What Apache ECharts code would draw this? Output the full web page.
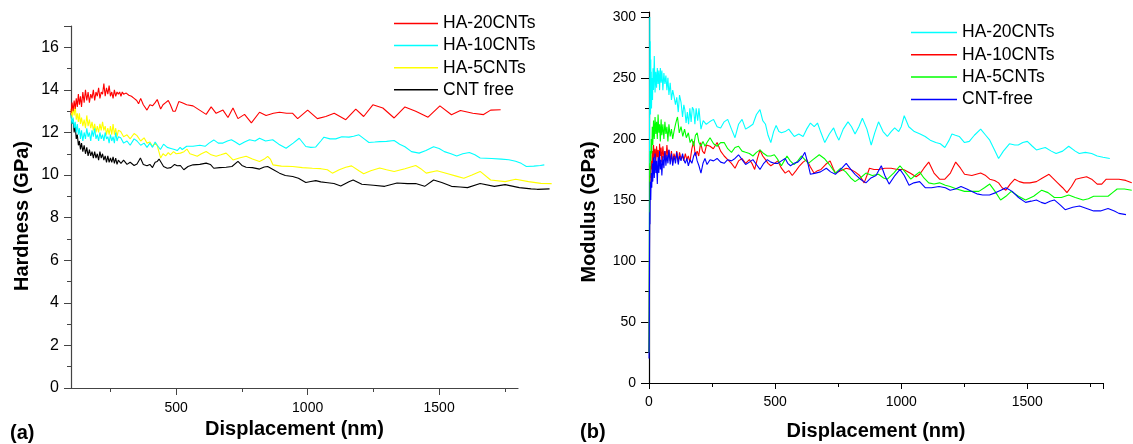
<!DOCTYPE html>
<html>
<head>
<meta charset="utf-8">
<script src="https://cdn.jsdelivr.net/npm/echarts@6/dist/echarts.min.js"></script>
<style>
html,body{margin:0;padding:0;background:#fff;}
#a{position:absolute;left:0;top:0;width:566px;height:444px;}
#b{position:absolute;left:566px;top:0;width:567px;height:444px;}
</style>
</head>
<body>
<div id="a"></div>
<div id="b"></div>
<script>
// ---------- (a) Hardness vs displacement ----------
const hardnessNames = ['HA-20CNTs', 'HA-10CNTs', 'HA-5CNTs', 'CNT free'];
const hardnessColors = ['#ff0000', '#00ffff', '#ffff00', '#000000'];
const hardnessXTicks = [500, 1000, 1500];
const hardnessXMinorTicks = [250, 750, 1250, 1750];

const hardness20 = [[100,12.9],[104,13.4],[108,13.0],[112,13.5],[116,13.1],[120,13.6],[124,13.2],[128,13.8],[132,13.3],[136,13.7],[140,13.2],[145,13.9],[150,13.4],[155,14.0],[160,13.5],[165,13.9],[170,13.4],[175,13.8],[180,13.6],[185,14.0],[190,13.5],[195,13.9],[200,13.7],[205,14.1],[210,13.6],[215,13.9],[220,13.8],[225,14.3],[230,13.7],[235,14.1],[240,13.8],[245,14.2],[250,13.7],[255,13.9],[260,13.6],[265,14.0],[270,13.7],[275,13.9],[280,13.8],[285,13.9],[290,13.7],[295,13.9],[300,13.8],[310,13.85],[320,13.75],[330,13.7],[340,13.6],[350,13.5],[357,13.35],[365,13.6],[375,13.3],[389,13.05],[400,13.3],[410,13.25],[420,13.4],[428,13.55],[435,13.3],[441,13.1],[450,13.3],[460,13.4],[470,13.5],[478,13.3],[488,13.0],[497,13.0],[510,13.45],[523,13.4],[540,13.3],[564,13.25],[589,13.05],[614,12.85],[633,13.2],[652,12.9],[678,13.05],[697,12.7],[716,13.15],[735,12.65],[760,12.85],[786,12.45],[817,12.95],[842,12.8],[870,12.9],[893,12.95],[920,12.9],[943,12.9],[962,12.65],[1000,13.05],[1037,12.65],[1069,12.75],[1101,12.9],[1145,12.6],[1183,13.1],[1213,12.75],[1248,13.3],[1286,13.15],[1329,12.68],[1370,13.2],[1411,13.0],[1458,12.72],[1503,13.25],[1547,12.83],[1581,13.03],[1628,12.9],[1669,12.84],[1696,13.05],[1734,13.07]];

const hardness10 = [[100,12.8],[104,12.4],[108,12.7],[112,12.2],[116,12.5],[120,12.0],[124,12.4],[128,11.9],[132,12.2],[136,11.7],[140,12.1],[145,11.6],[150,12.0],[155,11.7],[160,12.2],[165,11.8],[170,12.0],[175,11.6],[180,12.1],[185,11.8],[190,12.2],[195,11.7],[200,11.9],[205,11.6],[210,12.0],[215,11.7],[220,11.9],[225,11.6],[230,12.0],[235,11.7],[240,11.8],[245,11.5],[250,11.9],[255,11.6],[260,11.8],[265,11.5],[270,12.0],[275,11.6],[280,11.8],[289,11.75],[300,11.5],[313,11.6],[325,11.4],[340,11.7],[351,11.6],[365,11.4],[378,11.5],[389,11.3],[400,11.5],[410,11.3],[420,11.55],[428,11.4],[440,11.2],[452,11.45],[466,11.3],[480,11.25],[494,11.2],[504,11.15],[515,11.3],[523,11.2],[540,11.35],[564,11.35],[590,11.4],[610,11.35],[625,11.5],[643,11.65],[660,11.5],[678,11.5],[695,11.6],[710,11.66],[725,11.55],[741,11.42],[760,11.55],[779,11.66],[800,11.6],[817,11.73],[840,11.6],[867,11.66],[890,11.45],[918,11.26],[945,11.5],[968,11.73],[993,11.34],[1012,11.3],[1031,11.32],[1050,11.6],[1062,11.78],[1085,11.7],[1107,11.7],[1130,11.8],[1157,11.78],[1175,11.82],[1195,11.89],[1215,11.7],[1233,11.53],[1255,11.55],[1274,11.57],[1300,11.58],[1329,11.62],[1350,11.45],[1370,11.33],[1395,11.1],[1424,11.03],[1450,11.15],[1479,11.33],[1500,11.25],[1520,11.1],[1545,11.0],[1567,10.9],[1590,11.0],[1615,11.06],[1636,10.95],[1656,10.8],[1700,10.78],[1737,10.75],[1765,10.72],[1791,10.65],[1812,10.55],[1832,10.4],[1860,10.42],[1885,10.45],[1900,10.48]];

const hardness5 = [[100,13.1],[104,12.7],[108,13.2],[112,12.8],[116,13.3],[120,12.6],[124,12.9],[128,12.5],[132,12.9],[136,12.4],[140,12.7],[145,12.3],[150,12.6],[155,12.2],[160,12.8],[165,12.3],[170,12.6],[175,12.2],[180,12.5],[185,12.1],[190,12.4],[195,12.0],[200,12.3],[205,12.0],[210,12.4],[215,12.1],[220,12.5],[225,12.1],[230,12.3],[235,11.9],[240,12.2],[245,11.9],[250,12.3],[255,11.9],[260,12.4],[265,11.9],[270,12.2],[275,11.8],[280,12.1],[289,12.05],[300,11.8],[313,11.89],[325,11.7],[340,11.95],[351,11.85],[365,11.6],[378,11.75],[389,11.5],[400,11.55],[410,11.35],[420,11.5],[428,11.38],[435,11.4],[441,10.8],[450,11.0],[460,10.9],[470,11.05],[478,10.95],[490,11.1],[500,11.0],[516,11.03],[530,11.1],[541,11.22],[552,11.0],[564,10.95],[580,10.88],[596,11.0],[614,11.11],[633,10.95],[652,10.88],[670,10.95],[690,11.03],[705,10.85],[716,10.71],[740,10.8],[766,10.88],[790,10.75],[817,10.64],[835,10.75],[848,10.88],[858,10.75],[868,10.48],[900,10.42],[943,10.4],[980,10.35],[1018,10.32],[1050,10.3],[1075,10.25],[1094,10.09],[1120,10.25],[1145,10.37],[1167,10.43],[1195,10.2],[1213,10.06],[1240,10.2],[1274,10.33],[1300,10.25],[1329,10.17],[1370,10.3],[1411,10.45],[1430,10.3],[1451,10.09],[1492,10.2],[1533,10.06],[1565,9.95],[1594,9.85],[1625,10.0],[1656,10.17],[1696,9.77],[1751,9.69],[1791,9.8],[1840,9.69],[1887,9.61],[1928,9.6]];

const hardness0 = [[100,12.9],[104,12.4],[108,12.6],[112,12.0],[116,12.3],[120,11.7],[124,11.9],[128,11.4],[132,11.6],[136,11.2],[140,11.5],[145,11.1],[150,11.4],[155,11.0],[160,11.3],[165,10.9],[170,11.2],[175,10.9],[180,11.1],[185,10.8],[190,11.1],[195,10.8],[200,11.0],[205,10.7],[210,11.1],[215,10.8],[220,11.0],[225,10.7],[230,10.9],[235,10.6],[240,10.9],[245,10.6],[250,10.8],[255,10.6],[260,10.85],[265,10.55],[270,10.8],[275,10.5],[280,10.7],[290,10.55],[300,10.7],[313,10.5],[325,10.6],[340,10.45],[351,10.52],[364,10.8],[375,10.5],[389,10.44],[400,10.5],[410,10.35],[420,10.6],[428,10.64],[435,10.75],[441,10.8],[452,10.4],[466,10.32],[480,10.35],[494,10.5],[504,10.44],[516,10.45],[529,10.25],[545,10.4],[564,10.48],[590,10.5],[614,10.56],[630,10.5],[643,10.32],[665,10.35],[690,10.37],[712,10.4],[735,10.64],[750,10.45],[766,10.37],[790,10.35],[817,10.28],[835,10.38],[848,10.4],[870,10.25],[893,10.09],[915,9.98],[943,9.93],[965,9.85],[993,9.65],[1012,9.7],[1031,9.74],[1050,9.68],[1069,9.65],[1100,9.6],[1126,9.49],[1157,9.69],[1173,9.77],[1206,9.57],[1250,9.52],[1293,9.47],[1340,9.63],[1380,9.6],[1411,9.6],[1445,9.47],[1479,9.77],[1510,9.65],[1547,9.47],[1580,9.44],[1608,9.41],[1656,9.6],[1710,9.47],[1751,9.55],[1805,9.41],[1850,9.35],[1873,9.33],[1920,9.35]];

// ---------- (b) Modulus vs displacement ----------
const modulusNames = ['HA-20CNTs', 'HA-10CNTs', 'HA-5CNTs', 'CNT-free'];
const modulusColors = ['#00ffff', '#ff0000', '#00ff00', '#0000ff'];

const modulus20 = [[0,25],[1,70],[2,180],[3,300],[4,240],[5,280],[6,220],[7,265],[8,230],[9,255],[10,225],[12,250],[14,232],[16,258],[18,240],[21,268],[24,238],[27,255],[30,242],[33,258],[36,245],[39,256],[42,240],[45,258],[48,246],[51,256],[55,240],[59,254],[63,245],[67,252],[71,240],[75,250],[79,236],[84,246],[89,232],[94,240],[99,235],[105,228],[110,234],[116,222],[121,236],[127,230],[133,218],[138,228],[142,224],[147,213],[152,222],[157,212],[162,225],[167,214],[172,226],[177,224],[182,212],[187,225],[193,215],[198,225],[206,208],[215,215],[227,212],[240,214],[256,216],[270,210],[284,209],[298,214],[312,216],[327,208],[341,201],[355,212],[369,216],[383,208],[398,210],[412,212],[426,220],[440,224],[451,215],[462,212],[472,203],[483,197],[494,206],[504,211],[515,206],[525,205],[540,206],[554,208],[565,205],[576,202],[594,204],[611,202],[625,208],[640,213],[655,210],[668,213],[682,205],[697,197],[715,204],[732,209],[743,203],[753,199],[770,208],[789,214],[803,210],[817,204],[832,210],[846,217],[864,208],[881,195],[895,205],[910,214],[928,206],[945,202],[960,206],[974,209],[990,206],[1000,210],[1012,219],[1030,210],[1052,206],[1075,204],[1095,202],[1115,199],[1137,197],[1155,196],[1173,193],[1190,199],[1201,204],[1215,203],[1230,202],[1251,197],[1270,198],[1290,203],[1315,208],[1335,203],[1351,199],[1370,191],[1386,184],[1405,190],[1429,196],[1450,195],[1464,195],[1482,197],[1500,198],[1520,194],[1536,191],[1553,192],[1571,193],[1595,190],[1614,188],[1640,190],[1664,194],[1690,190],[1706,188],[1730,189],[1755,188],[1777,186],[1800,185],[1827,184]];

const modulus10 = [[0,25],[1,60],[2,120],[3,170],[4,160],[5,178],[7,168],[9,182],[11,175],[13,190],[15,180],[18,195],[21,184],[24,192],[27,180],[30,194],[33,185],[36,191],[39,178],[42,196],[45,186],[48,193],[51,181],[55,194],[59,184],[63,190],[67,183],[71,195],[75,185],[79,191],[84,182],[89,190],[94,180],[99,188],[105,183],[110,190],[116,181],[121,189],[127,184],[133,186],[138,182],[144,188],[150,183],[156,186],[162,181],[170,192],[177,198],[184,186],[191,190],[197,186],[205,197],[212,190],[220,188],[228,195],[242,194],[255,192],[270,197],[284,190],[298,186],[312,183],[327,180],[341,176],[355,182],[369,184],[383,180],[398,183],[408,180],[419,175],[430,184],[440,191],[451,186],[462,183],[472,180],[483,178],[497,180],[511,182],[525,176],[540,172],[554,174],[568,170],[583,174],[597,178],[611,181],[625,183],[640,177],[654,172],[668,174],[682,175],[700,179],[718,182],[730,176],[739,172],[760,174],[782,176],[800,175],[817,173],[835,170],[853,164],[864,170],[874,176],[892,175],[910,175],[935,176],[960,176],[985,175],[1009,175],[1035,172],[1059,169],[1073,171],[1090,176],[1109,181],[1130,172],[1152,167],[1173,167],[1195,172],[1216,181],[1235,176],[1251,171],[1280,170],[1315,172],[1335,170],[1351,167],[1370,166],[1386,164],[1400,160],[1415,158],[1432,163],[1450,167],[1468,165],[1486,164],[1510,164],[1536,165],[1560,168],[1586,171],[1600,168],[1620,164],[1640,160],[1657,156],[1675,161],[1692,167],[1712,168],[1735,169],[1755,167],[1777,163],[1795,163],[1813,167],[1840,167],[1863,167],[1890,166],[1914,164]];

const modulus5 = [[0,25],[1,60],[2,130],[3,180],[4,170],[5,190],[7,182],[9,200],[11,188],[13,210],[15,195],[18,215],[21,200],[24,218],[27,204],[30,214],[33,200],[36,220],[39,205],[42,212],[45,198],[48,216],[51,203],[55,212],[59,200],[63,214],[67,204],[71,210],[75,198],[79,212],[84,202],[89,208],[94,200],[99,206],[105,212],[110,216],[113,218],[120,205],[127,210],[134,202],[141,208],[148,201],[156,205],[163,197],[170,200],[177,194],[184,203],[191,205],[198,197],[206,194],[214,198],[222,194],[230,197],[242,201],[256,196],[270,194],[284,197],[298,197],[312,192],[327,189],[341,193],[355,194],[369,190],[383,189],[398,188],[412,186],[426,189],[440,191],[455,188],[469,186],[483,186],[497,187],[511,183],[525,178],[536,182],[547,186],[560,182],[575,179],[590,182],[604,186],[618,183],[632,180],[650,183],[675,187],[695,184],[715,179],[739,172],[760,176],[780,173],[800,168],[817,165],[838,168],[860,172],[885,170],[910,171],[930,168],[945,167],[970,172],[995,178],[1015,173],[1038,167],[1055,170],[1073,173],[1090,168],[1109,164],[1130,163],[1152,164],[1175,162],[1194,161],[1220,159],[1251,157],[1280,157],[1308,157],[1330,160],[1351,163],[1372,157],[1394,150],[1415,153],[1436,157],[1465,153],[1493,150],[1525,153],[1557,158],[1582,156],[1607,152],[1635,152],[1664,154],[1690,152],[1721,150],[1742,151],[1763,153],[1790,153],[1820,153],[1838,156],[1856,159],[1885,159],[1914,158]];

const modulus0 = [[0,20],[1,40],[2,90],[3,140],[4,130],[5,165],[7,150],[9,172],[11,160],[13,180],[15,165],[18,185],[21,168],[24,188],[27,172],[30,182],[33,163],[36,185],[39,172],[42,190],[45,175],[48,183],[51,170],[55,186],[59,176],[63,190],[67,178],[71,187],[75,180],[79,191],[84,179],[89,188],[94,178],[99,186],[105,180],[110,189],[116,179],[121,186],[127,182],[133,188],[138,183],[144,180],[150,184],[156,178],[163,183],[170,180],[177,186],[184,189],[191,182],[198,178],[206,172],[214,180],[222,184],[230,179],[242,183],[256,182],[270,184],[284,181],[298,180],[312,183],[327,182],[341,184],[355,187],[369,183],[383,179],[398,181],[412,183],[426,179],[440,175],[455,180],[469,183],[483,181],[497,180],[511,180],[525,182],[540,184],[550,180],[561,178],[575,180],[590,181],[604,184],[618,189],[630,180],[640,171],[660,172],[680,173],[703,176],[720,173],[739,171],[760,175],[782,180],[800,175],[817,171],[838,167],[860,164],[880,168],[900,170],[921,178],[935,170],[952,163],[975,170],[995,175],[1012,170],[1031,162],[1050,164],[1073,165],[1095,160],[1120,160],[1150,161],[1175,160],[1194,158],[1215,159],[1237,161],[1260,159],[1280,157],[1300,155],[1323,154],[1350,154],[1375,156],[1395,158],[1415,160],[1440,157],[1465,152],[1493,148],[1515,149],[1536,150],[1555,148],[1571,147],[1590,149],[1607,150],[1630,146],[1650,142],[1680,144],[1707,145],[1735,143],[1763,141],[1790,141],[1820,143],[1845,141],[1863,139],[1891,138]];

const FONT = 'Liberation Sans, Arial, Helvetica, sans-serif';
const plain = v => String(v);

function lineSeries(name, color, data, z) {
  return {
    name: name, type: 'line', data: data, color: color,
    xAxisIndex: 2, yAxisIndex: 1,
    symbol: 'none', showSymbol: false, clip: false, z: z,
    lineStyle: { width: 1.1, color: color },
    emphasis: { disabled: true }, animation: false
  };
}
function legendBox(left, top, w, gap, names) {
  return {
    orient: 'vertical', left: left, top: top, padding: 0,
    icon: 'rect', itemWidth: w, itemHeight: 1.5, itemGap: gap,
    data: names, selectedMode: false,
    textStyle: { fontFamily: FONT, fontSize: 17.5, color: '#000' }
  };
}

// ---------- chart (a) ----------
// grid 0: visible axes (100..1800); grid 1: same scale extended so curves may run past the axis end
const chartA = echarts.init(document.getElementById('a'), null, { renderer: 'canvas' });
const hardSets = [hardness20, hardness10, hardness5, hardness0];
const aPxPerNm = (566 - 71 - 48) / (1800 - 100);
const aExtMax = 1950;
chartA.setOption({
  animation: false,
  backgroundColor: '#fff',
  grid: [
    { left: 71, right: 48, top: 26, bottom: 56, outerBoundsMode: 'none', containLabel: false },
    { left: 71, width: (aExtMax - 100) * aPxPerNm, top: 26, bottom: 56, outerBoundsMode: 'none', containLabel: false }
  ],
  legend: legendBox(394, 14.5, 44, 4.1, hardnessNames),
  xAxis: [{
    gridIndex: 0, type: 'value', min: 100, max: 1800,
    axisLine: { show: true, lineStyle: { color: '#444', width: 1.2 } },
    axisTick: { show: true, length: 7, customValues: hardnessXTicks, lineStyle: { color: '#444' } },
    axisLabel: { customValues: hardnessXTicks, formatter: plain, margin: 13, fontFamily: FONT, fontSize: 14, color: '#000' },
    splitLine: { show: false },
    name: 'Displacement (nm)', nameLocation: 'middle', nameGap: 31,
    nameTextStyle: { fontFamily: FONT, fontSize: 20, fontWeight: 'bold', color: '#000' }
  }, {
    gridIndex: 0, type: 'value', min: 100, max: 1800, position: 'bottom',
    axisLine: { show: false },
    axisTick: { show: true, length: 4, customValues: hardnessXMinorTicks, lineStyle: { color: '#444' } },
    axisLabel: { show: false }, splitLine: { show: false }
  }, {
    gridIndex: 1, type: 'value', min: 100, max: aExtMax, show: false
  }],
  yAxis: [{
    gridIndex: 0, type: 'value', min: 0, max: 17, interval: 2,
    axisLine: { show: true, lineStyle: { color: '#444', width: 1.2 } },
    axisTick: { show: true, length: 7, lineStyle: { color: '#444' } },
    minorTick: { show: true, splitNumber: 2, length: 4, lineStyle: { color: '#444' } },
    axisLabel: { showMaxLabel: false, margin: 12, fontFamily: FONT, fontSize: 16, color: '#000' },
    splitLine: { show: false }
  }, {
    gridIndex: 1, type: 'value', min: 0, max: 17, show: false
  }],
  graphic: [
    { type: 'text', x: 22, y: 216, rotation: Math.PI / 2,
      style: { text: 'Hardness (GPa)', font: 'bold 20px ' + FONT, fill: '#000', textAlign: 'center', textVerticalAlign: 'middle' } },
    { type: 'text', x: 10, y: 433,
      style: { text: '(a)', font: 'bold 20px ' + FONT, fill: '#000', textAlign: 'left', textVerticalAlign: 'middle' } }
  ],
  series: hardnessNames.map((n, i) => lineSeries(n, hardnessColors[i], hardSets[i], 10 - i))
});

// ---------- chart (b) ----------
const chartB = echarts.init(document.getElementById('b'), null, { renderer: 'canvas' });
const modSets = [modulus20, modulus10, modulus5, modulus0];
const bPxPerNm = (567 - 83 - 30) / 1800;
const bExtMax = 1915;
chartB.setOption({
  animation: false,
  backgroundColor: '#fff',
  grid: [
    { left: 83, right: 30, top: 12, bottom: 61, outerBoundsMode: 'none', containLabel: false },
    { left: 83, width: bExtMax * bPxPerNm, top: 12, bottom: 61, outerBoundsMode: 'none', containLabel: false }
  ],
  legend: legendBox(345, 23.5, 46, 4.3, modulusNames),
  xAxis: [{
    gridIndex: 0, type: 'value', min: 0, max: 1800, interval: 500,
    axisLine: { show: true, lineStyle: { color: '#000', width: 1.2 } },
    axisTick: { show: true, length: 6, lineStyle: { color: '#000' } },
    minorTick: { show: true, splitNumber: 2, length: 4, lineStyle: { color: '#000' } },
    axisLabel: { showMaxLabel: false, formatter: plain, margin: 12, fontFamily: FONT, fontSize: 14, color: '#000' },
    splitLine: { show: false },
    name: 'Displacement (nm)', nameLocation: 'middle', nameGap: 38,
    nameTextStyle: { fontFamily: FONT, fontSize: 20, fontWeight: 'bold', color: '#000' }
  }, {
    gridIndex: 1, type: 'value', min: 0, max: 1800, show: false
  }, {
    gridIndex: 1, type: 'value', min: 0, max: bExtMax, show: false
  }],
  yAxis: [{
    gridIndex: 0, type: 'value', min: 0, max: 304, interval: 50,
    axisLine: { show: true, lineStyle: { color: '#000', width: 1.2 } },
    axisTick: { show: true, length: 8, lineStyle: { color: '#000' } },
    minorTick: { show: true, splitNumber: 2, length: 4, lineStyle: { color: '#000' } },
    axisLabel: { showMaxLabel: false, margin: 13, fontFamily: FONT, fontSize: 14, color: '#000' },
    splitLine: { show: false }
  }, {
    gridIndex: 1, type: 'value', min: 0, max: 304, show: false
  }],
  graphic: [
    { type: 'text', x: 23, y: 212, rotation: Math.PI / 2,
      style: { text: 'Modulus (GPa)', font: 'bold 20px ' + FONT, fill: '#000', textAlign: 'center', textVerticalAlign: 'middle' } },
    { type: 'text', x: 14, y: 432,
      style: { text: '(b)', font: 'bold 20px ' + FONT, fill: '#000', textAlign: 'left', textVerticalAlign: 'middle' } }
  ],
  series: modulusNames.map((n, i) => lineSeries(n, modulusColors[i], modSets[i], 5 + i))
});
</script>
</body>
</html>
